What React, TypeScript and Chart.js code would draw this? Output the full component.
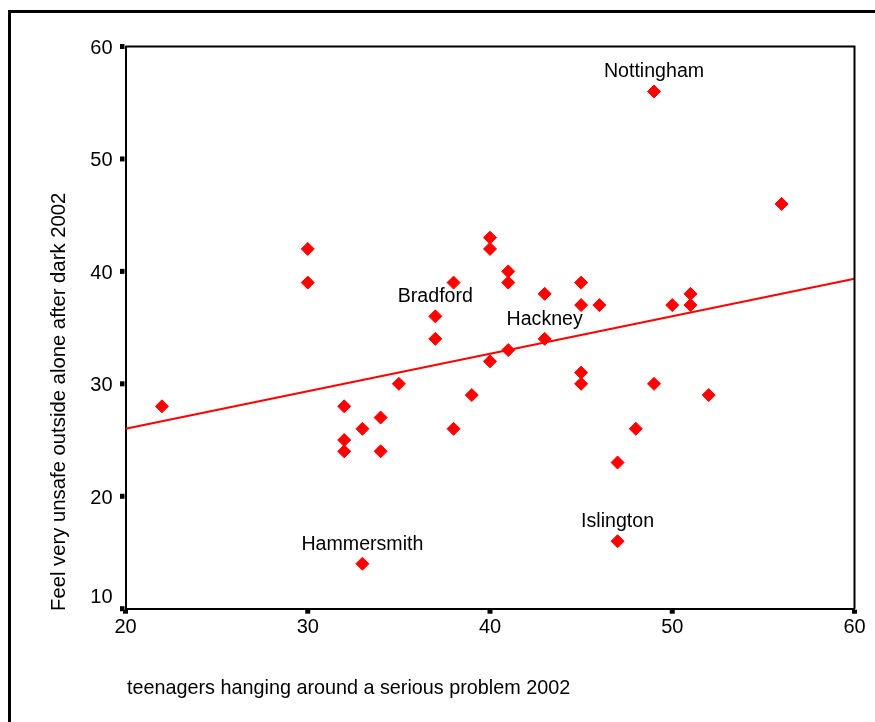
import React, { useEffect, useRef } from "react";
import { Chart, registerables } from "chart.js";

Chart.register(...registerables);

// % saying teenagers hanging around is a serious problem (x)
const teenagerProblem = [
  22, 30, 30, 32, 32, 32, 33, 34, 34, 35, 33, 37, 37, 38, 38, 39, 40, 40, 40, 41,
  41, 41, 43, 43, 45, 45, 45, 45, 46, 47, 47, 48, 49, 49, 50, 51, 51, 52, 56,
];
// % feeling very unsafe outside alone after dark (y)
const feelUnsafe = [
  28, 42, 39, 28, 25, 24, 26, 27, 24, 30, 14, 36, 34, 39, 26, 29, 43, 42, 32, 40,
  39, 33, 38, 34, 39, 37, 31, 30, 37, 23, 16, 26, 56, 30, 37, 38, 37, 29, 46,
];
// names of the labelled areas, aligned with the points above
const areaNames = [
  "", "", "", "", "", "", "", "", "", "", "Hammersmith", "Bradford", "", "", "", "", "", "", "", "",
  "", "", "", "Hackney", "", "", "", "", "", "", "Islington", "", "Nottingham", "", "", "", "", "", "",
];

// fitted regression line end points
const fitX = [20, 60];
const fitY = [26.0, 39.35];

const xTicks = [20, 30, 40, 50, 60];
const yTicks = [10, 20, 30, 40, 50, 60];

const xTitle = "teenagers hanging around a serious problem 2002";
const yTitle = "Feel very unsafe outside alone after dark 2002";

const FONT = "'Liberation Sans', Arial, Helvetica, sans-serif";

const decor = {
  id: "decor",
  afterDraw(chart: any) {
    const { ctx, chartArea: a, scales } = chart;
    const xs = scales.x;
    const ys = scales.y;
    ctx.save();
    // outer frame
    ctx.strokeStyle = "#000";
    ctx.lineWidth = 3;
    ctx.strokeRect(9.5, 11.5, 3000, 3000);
    // top and right edges of plot box
    ctx.lineWidth = 2;
    ctx.beginPath();
    ctx.moveTo(a.left, a.top);
    ctx.lineTo(a.right, a.top);
    ctx.lineTo(a.right, a.bottom);
    ctx.stroke();

    ctx.fillStyle = "#000";
    ctx.font = `20px ${FONT}`;
    ctx.textAlign = "center";
    ctx.textBaseline = "middle";
    xTicks.forEach((v) => {
      const px = xs.getPixelForValue(v);
      ctx.fillRect(px - 2.5, a.bottom + 1, 5, 4);
      ctx.fillText(String(v), px, a.bottom + 19);
    });
    ctx.textAlign = "right";
    yTicks.forEach((v, i) => {
      const py = ys.getPixelForValue(v);
      ctx.fillRect(a.left - 5.5, py - 2.5, 4.5, 5);
      ctx.fillText(String(v), a.left - 13, i === 0 ? py - 11 : py + 2);
    });

    // axis titles
    ctx.textAlign = "left";
    ctx.textBaseline = "alphabetic";
    ctx.font = `19.8px ${FONT}`;
    ctx.fillText(xTitle, 127, 694);
    ctx.font = `20.3px ${FONT}`;
    ctx.save();
    ctx.translate(65, 611);
    ctx.rotate(-Math.PI / 2);
    ctx.fillText(yTitle, 0, 0);
    ctx.restore();

    // point labels
    ctx.font = `19.6px ${FONT}`;
    ctx.textAlign = "center";
    areaNames.forEach((name, i) => {
      if (!name) return;
      const px = xs.getPixelForValue(teenagerProblem[i]);
      const py = ys.getPixelForValue(feelUnsafe[i]);
      ctx.fillText(name, px, py - 14);
    });
    ctx.restore();
  },
};

export default function App() {
  const ref = useRef<HTMLCanvasElement>(null);
  useEffect(() => {
    document.body.style.margin = "0";
    const canvas = ref.current;
    if (!canvas) return;
    const chart = new Chart(canvas, {
      type: "scatter",
      data: {
        datasets: [
          {
            label: "Areas",
            data: teenagerProblem.map((x, i) => ({ x, y: feelUnsafe[i] })),
            pointStyle: "rectRot",
            pointRadius: 6.5,
            pointBorderWidth: 1,
            backgroundColor: "#ff0000",
            borderColor: "#ff0000",
            order: 1,
          },
          {
            label: "Fit",
            type: "line",
            data: fitX.map((x, i) => ({ x, y: fitY[i] })),
            showLine: true,
            pointRadius: 0,
            borderColor: "#ff0000",
            borderWidth: 2,
            fill: false,
            order: 2,
          } as any,
        ],
      },
      options: {
        animation: false,
        responsive: false,
        layout: { padding: { left: 117.5, top: 46.5, right: 20.5, bottom: 105.3 } },
        plugins: { legend: { display: false }, tooltip: { enabled: false } },
        scales: {
          x: {
            type: "linear",
            min: 20,
            max: 60,
            grid: { display: false },
            ticks: { display: false },
            border: { display: true, color: "#000", width: 2 },
          },
          y: {
            type: "linear",
            min: 10,
            max: 60,
            grid: { display: false },
            ticks: { display: false },
            border: { display: true, color: "#000", width: 2 },
          },
        },
      },
      plugins: [decor],
    });
    return () => chart.destroy();
  }, []);
  return <canvas ref={ref} width={875} height={722} style={{ display: "block" }} />;
}
